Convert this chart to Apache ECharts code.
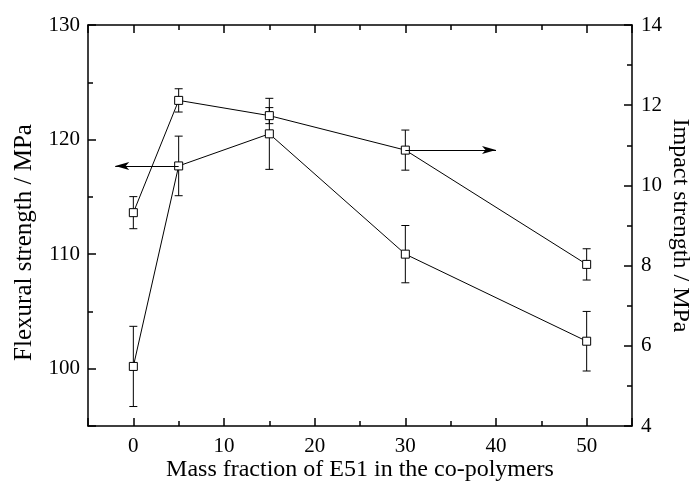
<!DOCTYPE html>
<html><head><meta charset="utf-8">
<script src="https://cdn.jsdelivr.net/npm/echarts@6/dist/echarts.min.js"></script>
<style>html,body{margin:0;padding:0;background:#fff}#c{width:693px;height:484px}</style>
</head><body><div id="c"></div>
<script>
// Data
const massFraction = [0, 5, 15, 30, 50];
const flexuralMean = [100.2, 117.7, 120.5, 110.0, 102.4];
const flexuralErr  = [3.5, 2.6, 3.1, 2.5, 2.6];
const impactMean   = [9.32, 12.12, 11.74, 10.88, 8.03];
const impactErr    = [0.40, 0.29, 0.20, 0.50, 0.39];
const flexArrow    = [[5, 117.7], [-2, 117.7]];
const impactArrow  = [[30, 10.88], [40, 10.88]];
const xTickLabels = ['0','10','20','30','40','50'];

const FONT = 'Liberation Serif';
const black = '#000';

function pairs(xs, ys){ return xs.map((x,i)=>[x, ys[i]]); }
function errData(xs, m, e){ return xs.map((x,i)=>[x, m[i]-e[i], m[i]+e[i]]); }

function errRender(params, api){
  const x = api.value(0), lo = api.value(1), hi = api.value(2);
  const p1 = api.coord([x, hi]), p2 = api.coord([x, lo]);
  const hw = 4;
  const st = {stroke: black, lineWidth: 1};
  return {type:'group', children:[
    {type:'line', shape:{x1:p1[0], y1:p1[1], x2:p2[0], y2:p2[1]}, style:st},
    {type:'line', shape:{x1:p1[0]-hw, y1:p1[1], x2:p1[0]+hw, y2:p1[1]}, style:st},
    {type:'line', shape:{x1:p2[0]-hw, y1:p2[1], x2:p2[0]+hw, y2:p2[1]}, style:st}
  ]};
}

const axisCommon = {
  axisLine:{show:true, onZero:false, lineStyle:{color:black, width:1.5}},
  axisTick:{show:true, inside:true, length:8, lineStyle:{color:black, width:1.5}},
  minorTick:{show:true, splitNumber:2, length:5, lineStyle:{color:black, width:1.5}},
  splitLine:{show:false},
  nameMoveOverlap:false
};
const labelStyle = {color:black, fontFamily:FONT, fontSize:21};

const chart = echarts.init(document.getElementById('c'));
const option = {
  animation:false,
  backgroundColor:'#fff',
  grid:{left:88, right:61, top:25, bottom:58, containLabel:false, outerBoundsMode:'none'},
  xAxis:[
    Object.assign({type:'value', position:'bottom', min:-5, max:55, splitNumber:6,
      axisLabel:Object.assign({margin:10, formatter:v => xTickLabels.includes(String(v)) ? String(v) : ''}, labelStyle),
      name:'Mass fraction of E51 in the co-polymers', nameLocation:'middle', nameGap:32,
      nameTextStyle:{color:black, fontFamily:FONT, fontSize:24}}, axisCommon),
    Object.assign({type:'value', position:'top', min:-5, max:55, splitNumber:6, axisLabel:{show:false}}, axisCommon)
  ],
  yAxis:[
    Object.assign({type:'value', position:'left', min:95, max:130, splitNumber:4,
      axisLabel:Object.assign({margin:8, formatter:v => (v % 10 === 0 ? String(v) : '')}, labelStyle),
      name:'Flexural strength / MPa', nameLocation:'middle', nameGap:51,
      nameTextStyle:{color:black, fontFamily:FONT, fontSize:25, padding:[0,34,0,0]}}, axisCommon),
    Object.assign({type:'value', position:'right', min:4, max:14, interval:2,
      axisLabel:Object.assign({margin:9}, labelStyle),
      name:'Impact strength / MPa', nameLocation:'middle', nameGap:36, nameRotate:-90,
      nameTextStyle:{color:black, fontFamily:FONT, fontSize:24}}, axisCommon)
  ],
  series:[
    {type:'custom', xAxisIndex:0, yAxisIndex:0, renderItem:errRender, data:errData(massFraction, flexuralMean, flexuralErr), encode:{x:0, y:[1,2]}, z:1, silent:true},
    {type:'custom', xAxisIndex:0, yAxisIndex:1, renderItem:errRender, data:errData(massFraction, impactMean, impactErr), encode:{x:0, y:[1,2]}, z:1, silent:true},
    {type:'line', xAxisIndex:0, yAxisIndex:0, data:pairs(massFraction, flexuralMean), symbol:'rect', symbolSize:8,
      itemStyle:{color:'#fff', borderColor:black, borderWidth:1}, lineStyle:{color:black, width:1}, z:3,
      markLine:{silent:true, symbol:['none','arrow'], symbolSize:[6,14], label:{show:false}, lineStyle:{color:black, width:1, type:'solid'},
        data:[[{coord:flexArrow[0]}, {coord:flexArrow[1]}]]}},
    {type:'line', xAxisIndex:0, yAxisIndex:1, data:pairs(massFraction, impactMean), symbol:'rect', symbolSize:8,
      itemStyle:{color:'#fff', borderColor:black, borderWidth:1}, lineStyle:{color:black, width:1}, z:3,
      markLine:{silent:true, symbol:['none','arrow'], symbolSize:[6,14], label:{show:false}, lineStyle:{color:black, width:1, type:'solid'},
        data:[[{coord:impactArrow[0]}, {coord:impactArrow[1]}]]}}
  ]
};
chart.setOption(option);
</script></body></html>
